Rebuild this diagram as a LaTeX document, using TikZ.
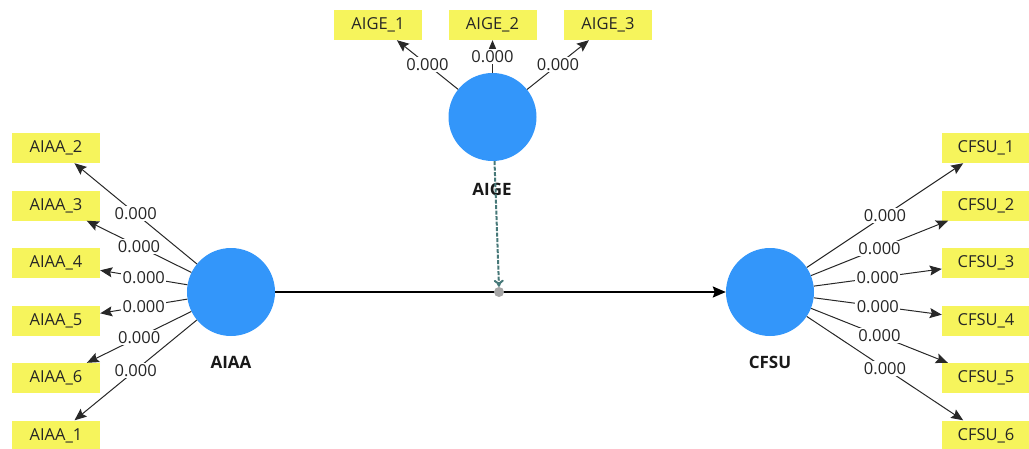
\documentclass[tikz,border=0pt]{standalone}
\usepackage{fontspec}
\setmainfont{Open Sans}
\usetikzlibrary{arrows.meta}
\definecolor{lvblue}{RGB}{51,150,250}
\definecolor{indyellow}{RGB}{246,244,92}
\definecolor{modteal}{RGB}{70,120,120}
\definecolor{linegray}{RGB}{40,40,40}
\tikzset{
  latent/.style={circle, fill=lvblue, minimum size=88pt, inner sep=0pt},
  lvname/.style={font=\bfseries\fontsize{17}{20}\selectfont, text=black!90},
  indicator/.style={fill=indyellow, minimum width=88pt, minimum height=30pt, inner sep=0pt,
    font=\fontsize{16.5}{19}\selectfont, text=black!85},
  loading/.style={draw=linegray, line width=1pt, -{Stealth[length=12pt,width=10pt,inset=2pt]}},
  wlabel/.style={fill=white, inner sep=1.5pt, pos=0.5, font=\fontsize{16.5}{19}\selectfont, text=black!85},
  path/.style={draw=black, line width=1.8pt, -{Stealth[length=13pt,width=11pt,inset=2pt]}},
  modpath/.style={draw=modteal, line width=2pt, dash pattern=on 4pt off 1.5pt, -{To[length=7pt,width=10pt]}}
}
\begin{document}
\begin{tikzpicture}[x=1pt,y=-1pt]
\useasboundingbox (0,0) rectangle (1029,448);

% latent variables
\node[latent] (AIAA) at (231,292) {};
\node[latent] (CFSU) at (770,292) {};
\node[latent] (AIGE) at (492.5,117) {};
\node[lvname] (AIAAlbl) at (231,362) {AIAA};
\node[lvname] (CFSUlbl) at (770,362) {CFSU};
\node[lvname] (AIGElbl) at (492,189) {AIGE};

% indicators of AIAA
\node[indicator] (AIAA2) at (56,148) {AIAA\_2};
\node[indicator] (AIAA3) at (56,205.5) {AIAA\_3};
\node[indicator] (AIAA4) at (56,263) {AIAA\_4};
\node[indicator] (AIAA5) at (56,320.5) {AIAA\_5};
\node[indicator] (AIAA6) at (56,378) {AIAA\_6};
\node[indicator] (AIAA1) at (56,435.5) {AIAA\_1};

% indicators of CFSU
\node[indicator] (CFSU1) at (986,148) {CFSU\_1};
\node[indicator] (CFSU2) at (986,205.5) {CFSU\_2};
\node[indicator] (CFSU3) at (986,263) {CFSU\_3};
\node[indicator] (CFSU4) at (986,320.5) {CFSU\_4};
\node[indicator] (CFSU5) at (986,378) {CFSU\_5};
\node[indicator] (CFSU6) at (986,435.5) {CFSU\_6};

% indicators of AIGE
\node[indicator] (AIGE1) at (378,25) {AIGE\_1};
\node[indicator] (AIGE2) at (492.5,25) {AIGE\_2};
\node[indicator] (AIGE3) at (608,25) {AIGE\_3};

% loadings
\foreach \i in {2,3,4,5,6,1}
  \draw[loading] (AIAA) -- (AIAA\i) node[wlabel] {0.000};
\foreach \i in {1,...,6}
  \draw[loading] (CFSU) -- (CFSU\i) node[wlabel] {0.000};
\foreach \i in {1,2,3}
  \draw[loading] (AIGE) -- (AIGE\i) node[wlabel] {0.000};

% structural path with moderating effect
\draw[path] (AIAA) -- (CFSU);
\node[circle, fill=black!35, minimum size=10pt, inner sep=0pt] (mod) at (499,292) {};
\coordinate (aigeout) at ([xshift=2pt]AIGE.south);
\draw[modpath] (aigeout) -- (mod.north);
\end{tikzpicture}
\end{document}
